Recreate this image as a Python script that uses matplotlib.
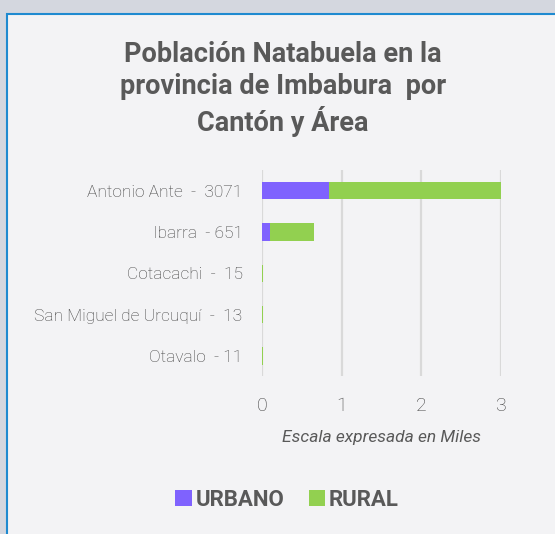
import matplotlib.pyplot as plt
from matplotlib.patches import Rectangle

# datos (en miles)
cantones = ["Antonio Ante  -  3071", "Ibarra  - 651", "Cotacachi  -  15",
            "San Miguel de Urcuquí  -  13", "Otavalo  - 11"]
urbano = [0.84, 0.10, 0.0, 0.0, 0.0]
rural = [2.17, 0.55, 0.015, 0.013, 0.011]
ticks = [0, 1, 2, 3]

gris = "#595959"
col_urb = "#7f62fe"
col_rur = "#92d050"

fig = plt.figure(figsize=(5.55, 5.34), dpi=100)
fig.patch.set_facecolor("#d4d7df")

# panel del grafico
panel = Rectangle((7 / 555, -0.05), 1.1, 1 - 14 / 534 + 0.05, transform=fig.transFigure,
                  facecolor="#f3f3f5", edgecolor="#1f8ad0", linewidth=1.5, zorder=-5)
fig.patches.append(panel)

ax = fig.add_axes([262 / 555, 1 - 376 / 534, (501 - 262) / 555, 206 / 534])
ax.set_facecolor("none")
ax.set_zorder(2)

y = list(range(len(cantones)))
ax.barh(y, urbano, height=0.42, color=col_urb, linewidth=0, label="URBANO", zorder=3)
ax.barh(y, rural, left=urbano, height=0.42, color=col_rur, linewidth=0,
        label="RURAL", zorder=3)

ax.set_xlim(0, 3)
ax.set_ylim(4.48, -0.5)
ax.set_yticks(y)
ax.set_yticklabels(cantones, fontsize=12.5, color="#404040", family="Roboto",
                   fontweight="light")
ax.set_xticks(ticks)
ax.set_xticklabels([str(t) for t in ticks], fontsize=14, color="#404040", family="Roboto",
                   fontweight="light")
ax.tick_params(length=0, pad=15, axis="x")
ax.tick_params(length=0, pad=14, axis="y")
ax.grid(axis="x", color="#d9d9d9", linewidth=1.6, zorder=0)
for s in ax.spines.values():
    s.set_visible(False)

ax.set_xlabel("Escala expresada en Miles", fontsize=12.5, color=gris, family="Roboto",
              style="italic", labelpad=11)

fig.text(283 / 555, 1 - 89 / 534, "Población Natabuela en la\nprovincia de Imbabura  por\nCantón y Área",
         ha="center", va="center", fontsize=19.5, fontweight="bold", color=gris,
         family="Roboto", linespacing=1.22)

leg = fig.legend(loc="center", bbox_to_anchor=(287 / 555, 1 - 500 / 534), ncol=2,
                 frameon=False, handlelength=0.75, handleheight=0.75, handletextpad=0.15,
                 columnspacing=1.1, prop={"family": "Roboto", "weight": "bold", "size": 16})
for t in leg.get_texts():
    t.set_color(gris)

fig.savefig("out.png", dpi=100, facecolor=fig.get_facecolor())
